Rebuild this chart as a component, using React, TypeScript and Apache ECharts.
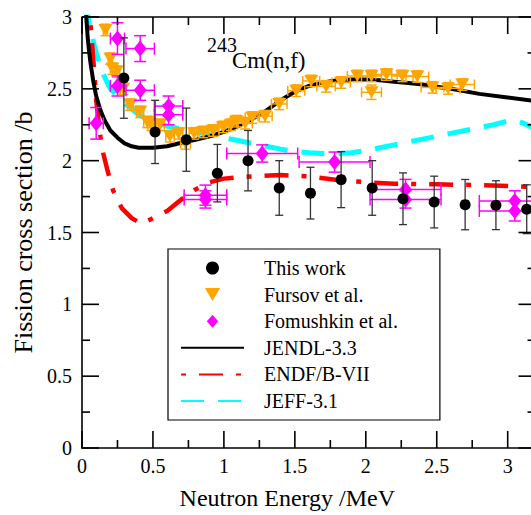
import React, { useEffect, useRef } from 'react';
import * as echarts from 'echarts';

const FONT = 'Liberation Serif';

// ---- Ticks ----
const xTicks = [0, 0.5, 1, 1.5, 2, 2.5, 3];
const xMinorTicks = [0.25, 0.75, 1.25, 1.75, 2.25, 2.75];
const yTicks = [0, 0.5, 1, 1.5, 2, 2.5, 3];
const yMinorTicks = [0.25, 0.75, 1.25, 1.75, 2.25, 2.75];

// This work
const thisWorkE = [0.295, 0.515, 0.735, 0.954, 1.17, 1.39, 1.61, 1.826, 2.045, 2.262, 2.482, 2.70, 2.917, 3.134];
const thisWorkXS = [2.575, 2.20, 2.146, 1.913, 2.0, 1.81, 1.774, 1.868, 1.81, 1.735, 1.712, 1.694, 1.69, 1.662];
const thisWorkErr = [0.28, 0.22, 0.22, 0.2, 0.21, 0.19, 0.18, 0.195, 0.19, 0.18, 0.18, 0.175, 0.17, 0.17];

// Fursov et al.
const fursovE = [0.165, 0.20, 0.215, 0.245, 0.29, 0.34, 0.41, 0.46, 0.49, 0.55, 0.62, 0.68, 0.73, 0.79, 0.855, 0.925, 0.995, 1.05, 1.09, 1.15, 1.20, 1.29, 1.39, 1.51, 1.615, 1.72, 1.826, 1.94, 2.04, 2.04, 2.146, 2.258, 2.363, 2.47, 2.58, 2.68];
const fursovXS = [2.91, 2.71, 2.64, 2.62, 2.50, 2.39, 2.34, 2.27, 2.25, 2.25, 2.17, 2.19, 2.12, 2.19, 2.20, 2.21, 2.235, 2.25, 2.275, 2.26, 2.30, 2.31, 2.395, 2.487, 2.555, 2.517, 2.544, 2.59, 2.59, 2.476, 2.60, 2.59, 2.586, 2.51, 2.503, 2.53];
const fursovEErr = [0.015, 0.015, 0.015, 0.02, 0.02, 0.02, 0.025, 0.025, 0.025, 0.03, 0.03, 0.03, 0.035, 0.035, 0.04, 0.04, 0.04, 0.045, 0.045, 0.05, 0.05, 0.05, 0.055, 0.06, 0.06, 0.065, 0.065, 0.07, 0.07, 0.07, 0.075, 0.075, 0.08, 0.08, 0.085, 0.085];
const fursovXSErr = [0.04, 0.04, 0.04, 0.04, 0.04, 0.04, 0.04, 0.04, 0.04, 0.04, 0.04, 0.04, 0.04, 0.04, 0.04, 0.04, 0.04, 0.04, 0.04, 0.04, 0.04, 0.04, 0.04, 0.04, 0.04, 0.04, 0.04, 0.04, 0.04, 0.05, 0.04, 0.04, 0.04, 0.04, 0.04, 0.04];

// Fomushkin et al.
const fomE = [0.10, 0.25, 0.25, 0.41, 0.41, 0.61, 0.61, 0.87, 0.87, 1.27, 1.78, 2.28, 2.28, 3.05, 3.05];
const fomXS = [2.26, 2.85, 2.52, 2.78, 2.49, 2.38, 2.32, 1.76, 1.73, 2.05, 1.99, 1.80, 1.73, 1.72, 1.65];
const fomEErr = [0.05, 0.05, 0.05, 0.1, 0.1, 0.1, 0.1, 0.15, 0.15, 0.25, 0.25, 0.25, 0.25, 0.25, 0.25];
const fomXSErr = [0.11, 0.11, 0.07, 0.09, 0.07, 0.07, 0.07, 0.07, 0.06, 0.06, 0.07, 0.07, 0.06, 0.07, 0.07];

// JENDL-3.3
const jendlE = [0.02, 0.03, 0.04, 0.05, 0.06, 0.08, 0.1, 0.13, 0.16, 0.2, 0.25, 0.3, 0.35, 0.4, 0.5, 0.6, 0.7, 0.8, 0.9, 1.0, 1.1, 1.2, 1.3, 1.4, 1.5, 1.6, 1.7, 1.8, 1.9, 2.0, 2.1, 2.2, 2.3, 2.4, 2.5, 2.6, 2.8, 3.0, 3.2, 3.5];
const jendlXS = [3.3, 3.0, 2.86, 2.76, 2.68, 2.55, 2.45, 2.35, 2.28, 2.21, 2.16, 2.12, 2.1, 2.09, 2.09, 2.1, 2.125, 2.145, 2.17, 2.2, 2.24, 2.29, 2.35, 2.42, 2.48, 2.52, 2.545, 2.56, 2.565, 2.565, 2.56, 2.55, 2.54, 2.53, 2.515, 2.5, 2.465, 2.44, 2.415, 2.38];

// ENDF/B-VII
const endfE = [0.05, 0.06, 0.08, 0.1, 0.13, 0.15, 0.18, 0.2, 0.22, 0.28, 0.35, 0.42, 0.5, 0.6, 0.7, 0.8, 0.9, 1.0, 1.1, 1.2, 1.4, 1.6, 1.8, 2.0, 2.2, 2.5, 2.8, 3.1, 3.5];
const endfXS = [3.2, 2.95, 2.7, 2.42, 2.17, 2.05, 1.93, 1.86, 1.79, 1.67, 1.6, 1.56, 1.6, 1.65, 1.73, 1.8, 1.85, 1.875, 1.885, 1.89, 1.9, 1.89, 1.865, 1.85, 1.84, 1.835, 1.83, 1.82, 1.81];

// JEFF-3.1
const jeffE = [0.03, 0.05, 0.1, 0.15, 0.2, 0.3, 0.4, 0.5, 0.6, 0.7, 0.8, 0.9, 1.0, 1.1, 1.2, 1.3, 1.4, 1.5, 1.6, 1.7, 1.8, 1.9, 2.0, 2.1, 2.2, 2.3, 2.4, 2.5, 2.6, 2.7, 2.8, 2.9, 3.0, 3.05, 3.1, 3.2, 3.5];
const jeffXS = [3.1, 2.95, 2.75, 2.6, 2.5, 2.4, 2.32, 2.27, 2.24, 2.22, 2.2, 2.18, 2.16, 2.14, 2.12, 2.1, 2.08, 2.065, 2.055, 2.05, 2.05, 2.055, 2.07, 2.09, 2.11, 2.13, 2.15, 2.17, 2.19, 2.21, 2.23, 2.25, 2.275, 2.28, 2.265, 2.22, 2.1];

const TRI = 'path://M0,0L14,0L7,12Z';
const DIAMOND = 'path://M7,0L14,8L7,16L0,8Z';

function zip(a: number[], b: number[]) {
  return a.map((v, i) => [v, b[i]]);
}

function errSeries(name: string, data: number[][], color: string, cap: number, width: number, z: number) {
  return {
    type: 'custom',
    name,
    data,
    z,
    silent: true,
    clip: false,
    encode: { x: 0, y: 1 },
    renderItem: (params: any, api: any) => {
      const x = api.value(0);
      const y = api.value(1);
      const xe = api.value(2);
      const ye = api.value(3);
      const c = api.coord([x, y]);
      const style = { stroke: color, lineWidth: width, fill: null };
      const children: any[] = [];
      if (ye > 0) {
        const t = api.coord([x, y + ye]);
        const b = api.coord([x, y - ye]);
        children.push({ type: 'line', shape: { x1: c[0], y1: t[1], x2: c[0], y2: b[1] }, style });
        children.push({ type: 'line', shape: { x1: c[0] - cap, y1: t[1], x2: c[0] + cap, y2: t[1] }, style });
        children.push({ type: 'line', shape: { x1: c[0] - cap, y1: b[1], x2: c[0] + cap, y2: b[1] }, style });
      }
      if (xe > 0) {
        const l = api.coord([x - xe, y]);
        const r = api.coord([x + xe, y]);
        children.push({ type: 'line', shape: { x1: l[0], y1: c[1], x2: r[0], y2: c[1] }, style });
        children.push({ type: 'line', shape: { x1: l[0], y1: c[1] - cap, x2: l[0], y2: c[1] + cap }, style });
        children.push({ type: 'line', shape: { x1: r[0], y1: c[1] - cap, x2: r[0], y2: c[1] + cap }, style });
      }
      return { type: 'group', children };
    },
  };
}

// Frame: mirror top/right axes with inward ticks, placed through the chart's own scales.
const FRAME_RIGHT = 3.196;
const MAJOR = 17;
const MINOR = 8;

export default function App() {
  const ref = useRef<HTMLDivElement>(null);
  useEffect(() => {
    const chart = echarts.init(ref.current!, null, { renderer: 'svg' });
    const gridLeft = 82;
    const pxPerUnit = 141.9;
    const gridWidth = 3.5 * pxPerUnit;
    const hideSym = { opacity: 0 };
    const titleTexts = [
      { id: 't1', type: 'text', left: 207, top: 35, z: 10, style: { text: '243', fontFamily: FONT, fontSize: 20, fill: '#000' } },
      { id: 't2', type: 'text', left: 232, top: 49, z: 10, style: { text: 'Cm(n,f)', fontFamily: FONT, fontSize: 23, fill: '#000' } },
    ];
    chart.setOption({
      animation: false,
      backgroundColor: '#fff',
      textStyle: { fontFamily: FONT },
      grid: { left: gridLeft, top: 17, width: gridWidth, bottom: 62, containLabel: false, show: false },
      xAxis: {
        type: 'value',
        min: 0,
        max: 3.5,
        interval: 0.5,
        position: 'bottom',
        axisLine: { show: true, onZero: false, lineStyle: { color: '#000', width: 1.6 } },
        axisTick: { show: false },
        minorTick: { show: false },
        splitLine: { show: false },
        name: 'Neutron Energy /MeV',
        nameLocation: 'middle',
        nameGap: 38,
        nameTextStyle: { fontFamily: FONT, fontSize: 24, color: '#000', padding: [0, 86, 0, 0] },
        axisLabel: {
          show: true,
          margin: 8,
          fontFamily: FONT,
          fontSize: 20,
          color: '#000',
          formatter: (v: number) => (xTicks.indexOf(v) >= 0 ? String(v) : ''),
        },
      },
      yAxis: {
        type: 'value',
        min: 0,
        max: 3,
        interval: 0.5,
        position: 'left',
        axisLine: { show: true, onZero: false, lineStyle: { color: '#000', width: 1.6 } },
        axisTick: { show: false },
        minorTick: { show: false },
        splitLine: { show: false },
        name: 'Fission cross section /b',
        nameLocation: 'middle',
        nameGap: 44,
        nameTextStyle: { fontFamily: FONT, fontSize: 26, color: '#000' },
        axisLabel: { show: true, margin: 10, fontFamily: FONT, fontSize: 20, color: '#000' },
      },
      legend: {
        show: true,
        orient: 'vertical',
        left: 168,
        top: 249,
        selectedMode: false,
        backgroundColor: '#fff',
        borderColor: '#000',
        borderWidth: 1.2,
        borderRadius: 0,
        padding: [9, 42, 9, 12],
        itemWidth: 63,
        itemHeight: 13,
        itemGap: 6.6,
        textStyle: { fontFamily: FONT, fontSize: 20, lineHeight: 20, color: '#000', padding: [0, 0, 0, 15] },
        data: [
          { name: 'This work', icon: 'circle' },
          { name: 'Fursov et al.', icon: TRI },
          { name: 'Fomushkin et al.', icon: DIAMOND },
          { name: 'JENDL-3.3', itemStyle: hideSym },
          { name: 'ENDF/B-VII', itemStyle: hideSym, lineStyle: { dashOffset: 37 } },
          { name: 'JEFF-3.1', itemStyle: hideSym },
        ],
      },
      graphic: titleTexts,
      series: [
        {
          type: 'line',
          name: 'JEFF-3.1',
          data: zip(jeffE, jeffXS),
          symbol: 'none',
          z: 2,
          itemStyle: { color: '#00FFFF' },
          lineStyle: { color: '#00FFFF', width: 5, type: [23, 14], cap: 'butt' },
        },
        {
          type: 'line',
          name: 'ENDF/B-VII',
          data: zip(endfE, endfXS),
          symbol: 'none',
          z: 2,
          itemStyle: { color: '#FF0000' },
          lineStyle: { color: '#FF0000', width: 4.5, type: [24, 13, 5, 13], cap: 'butt' },
        },
        {
          type: 'line',
          name: 'JENDL-3.3',
          data: zip(jendlE, jendlXS),
          symbol: 'none',
          z: 2,
          itemStyle: { color: '#000' },
          lineStyle: { color: '#000', width: 4 },
        },
        errSeries('Fursov err', fursovE.map((e, i) => [e, fursovXS[i], fursovEErr[i], fursovXSErr[i]]), '#FFA500', 5, 1.5, 3),
        {
          type: 'scatter',
          name: 'Fursov et al.',
          data: zip(fursovE, fursovXS),
          symbol: TRI,
          symbolSize: [14, 12],
          z: 3,
          itemStyle: { color: '#FFA500', opacity: 1 },
        },
        errSeries('Fomushkin err', fomE.map((e, i) => [e, fomXS[i], fomEErr[i], fomXSErr[i]]), '#FF00FF', 6, 1.5, 4),
        {
          type: 'scatter',
          name: 'Fomushkin et al.',
          data: zip(fomE, fomXS),
          symbol: DIAMOND,
          symbolSize: [13, 16],
          z: 4,
          itemStyle: { color: '#FF00FF', opacity: 1 },
        },
        errSeries('This work err', thisWorkE.map((e, i) => [e, thisWorkXS[i], 0, thisWorkErr[i]]), '#333', 4, 1.3, 5),
        {
          type: 'scatter',
          name: 'This work',
          data: zip(thisWorkE, thisWorkXS),
          symbol: 'circle',
          symbolSize: 11,
          z: 5,
          itemStyle: { color: '#000', opacity: 1 },
        },
      ],
    });

    // frame lines and inward ticks, positioned with the chart's own axis scales
    const toPx = (v: number[]) => chart.convertToPixel({ gridIndex: 0 }, v) as unknown as number[];
    const o = toPx([0, 0]);
    const tr = toPx([FRAME_RIGHT, 3]);
    if (o && tr) {
      const left = o[0];
      const bottom = o[1];
      const right = tr[0];
      const top = tr[1];
      const segs: number[][] = [];
      segs.push([left, top, right, top]);
      segs.push([right, bottom, right, top]);
      xTicks.forEach((v) => {
        const px = toPx([v, 0])[0];
        segs.push([px, bottom, px, bottom - MAJOR]);
        segs.push([px, top, px, top + MAJOR]);
      });
      xMinorTicks.forEach((v) => {
        const px = toPx([v, 0])[0];
        segs.push([px, bottom, px, bottom - MINOR]);
        segs.push([px, top, px, top + MINOR]);
      });
      yTicks.forEach((v) => {
        const py = toPx([0, v])[1];
        segs.push([left, py, left + MAJOR, py]);
        segs.push([right, py, right - MAJOR, py]);
      });
      yMinorTicks.forEach((v) => {
        const py = toPx([0, v])[1];
        segs.push([left, py, left + MINOR, py]);
        segs.push([right, py, right - MINOR, py]);
      });
      const frameEls = segs.map((s, i) => ({
        id: 'f' + i,
        type: 'line',
        silent: true,
        z: 50,
        shape: { x1: s[0], y1: s[1], x2: s[2], y2: s[3] },
        style: { stroke: '#000', lineWidth: 1.6 },
      }));
      chart.setOption({ graphic: [...titleTexts, ...frameEls] });
    }
    return () => chart.dispose();
  }, []);
  return (
    <div style={{ position: 'fixed', left: 0, top: 0, width: 531, height: 515, overflow: 'hidden', background: '#fff' }}>
      <div ref={ref} style={{ width: 600, height: 515 }} />
    </div>
  );
}
